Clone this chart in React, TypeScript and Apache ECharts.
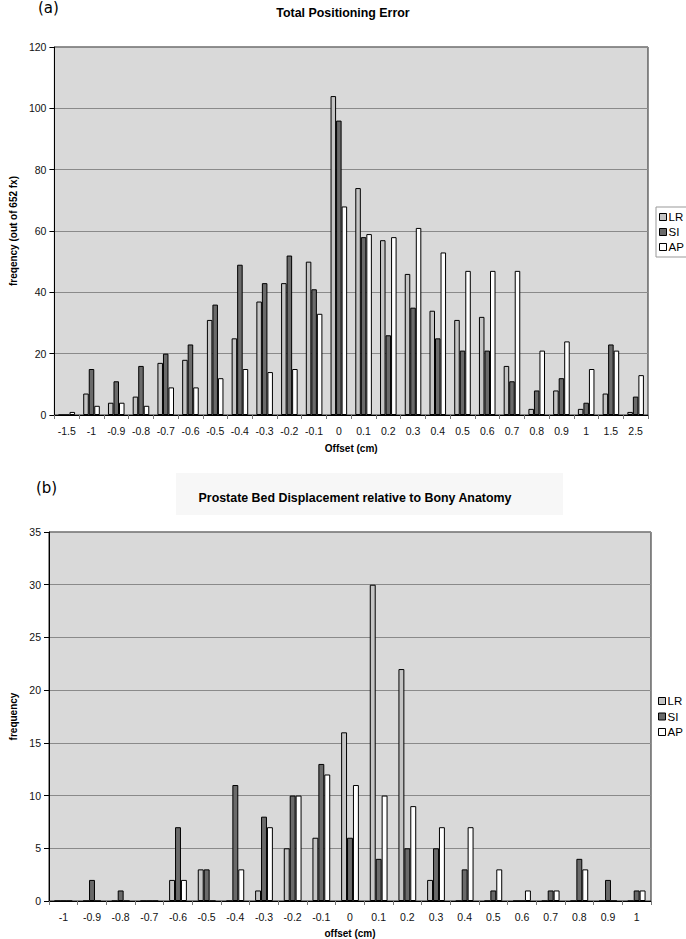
import React, { useEffect, useRef } from "react";
import * as echarts from "echarts";

const topCategories = ["-1.5", "-1", "-0.9", "-0.8", "-0.7", "-0.6", "-0.5", "-0.4", "-0.3", "-0.2", "-0.1", "0", "0.1", "0.2", "0.3", "0.4", "0.5", "0.6", "0.7", "0.8", "0.9", "1", "1.5", "2.5"];
const topLR = [0, 7, 4, 6, 17, 18, 31, 25, 37, 43, 50, 104, 74, 57, 46, 34, 31, 32, 16, 2, 8, 2, 7, 1];
const topSI = [0, 15, 11, 16, 20, 23, 36, 49, 43, 52, 41, 96, 58, 26, 35, 25, 21, 21, 11, 8, 12, 4, 23, 6];
const topAP = [1, 3, 4, 3, 9, 9, 12, 15, 14, 15, 33, 68, 59, 58, 61, 53, 47, 47, 47, 21, 24, 15, 21, 13];

const botCategories = ["-1", "-0.9", "-0.8", "-0.7", "-0.6", "-0.5", "-0.4", "-0.3", "-0.2", "-0.1", "0", "0.1", "0.2", "0.3", "0.4", "0.5", "0.6", "0.7", "0.8", "0.9", "1"];
const botLR = [0, 0, 0, 0, 2, 3, 0, 1, 5, 6, 16, 30, 22, 2, 0, 0, 0, 0, 0, 0, 0];
const botSI = [0, 2, 1, 0, 7, 3, 11, 8, 10, 13, 6, 4, 5, 5, 3, 1, 0, 1, 4, 2, 1];
const botAP = [0, 0, 0, 0, 2, 0, 3, 7, 10, 12, 11, 10, 9, 7, 7, 3, 1, 1, 3, 0, 1];

const seriesNames = ["LR", "SI", "AP"];
const seriesColors = ["#c4c4c4", "#6a6a6a", "#ffffff"];

const FONT = "Liberation Sans, Arial, sans-serif";

export default function App() {
  const ref = useRef<HTMLDivElement>(null);
  useEffect(() => {
    if (!ref.current) return;
    const chart = echarts.init(ref.current, undefined, { renderer: "svg" });

    const xAxisCommon = (gridIndex: number, data: string[], name: string, nameGap: number) => ({
      type: "category",
      gridIndex,
      data,
      name,
      nameLocation: "middle",
      nameGap,
      nameTextStyle: { fontFamily: FONT, fontSize: 10, fontWeight: "bold", color: "#000" },
      axisLine: { show: true, lineStyle: { color: "#000", width: 1 } },
      axisTick: { show: true, length: 4, lineStyle: { color: "#777" } },
      axisLabel: { fontFamily: FONT, fontSize: 10.5, color: "#111", margin: 10, interval: 0 },
      splitLine: { show: false },
    });
    const yAxisCommon = (gridIndex: number, max: number, interval: number, name: string, nameGap: number) => ({
      type: "value",
      gridIndex,
      min: 0,
      max,
      interval,
      name,
      nameLocation: "middle",
      nameGap,
      nameTextStyle: { fontFamily: FONT, fontSize: 10, fontWeight: "bold", color: "#000" },
      axisLine: { show: true, lineStyle: { color: "#000", width: 1 } },
      axisTick: { show: true, length: 5, lineStyle: { color: "#000" } },
      axisLabel: { fontFamily: FONT, fontSize: 10.5, color: "#111", margin: 8 },
      splitLine: { show: true, lineStyle: { color: "#8a8a8a", width: 1 } },
    });

    const mkSeries = (data: number[], i: number, axisIndex: number, gap: string) => ({
      type: "bar",
      name: seriesNames[i],
      xAxisIndex: axisIndex,
      yAxisIndex: axisIndex,
      data,
      barGap: "0%",
      barCategoryGap: gap,
      itemStyle: { color: seriesColors[i], borderColor: "#000", borderWidth: 1 },
    });

    const legendCommon = {
      orient: "vertical",
      icon: "rect",
      itemWidth: 7,
      itemHeight: 7,
      itemGap: 3,
      textStyle: { fontFamily: FONT, fontSize: 11.5, color: "#000", padding: [0, 0, 0, -3] },
      selectedMode: false,
      data: seriesNames.map((n) => ({ name: n, itemStyle: { borderColor: "#000", borderWidth: 1 } })),
    };

    chart.setOption({
      animation: false,
      backgroundColor: "#fff",
      graphic: [
        { type: "rect", shape: { x: 176, y: 473, width: 387, height: 42 }, style: { fill: "#f7f7f7" }, z: -10 },
        { type: "text", x: 38, y: 0, style: { text: "(a)", font: "15px DejaVu Sans", fill: "#000" } },
        { type: "text", x: 36, y: 480, style: { text: "(b)", font: "15px DejaVu Sans", fill: "#000" } },
      ],
      title: [
        { text: "Total Positioning Error", left: 338, top: 2, textAlign: "center", textStyle: { fontFamily: FONT, fontSize: 12.4, fontWeight: "bold", color: "#000" } },
        { text: "Prostate Bed Displacement relative to Bony Anatomy", left: 350, top: 487, textAlign: "center", textStyle: { fontFamily: FONT, fontSize: 12.4, fontWeight: "bold", color: "#000" } },
      ],
      legend: [
        { ...legendCommon, left: 656, top: 207, padding: [4, 12, 4, 3], borderColor: "#999", borderWidth: 1, backgroundColor: "#fff" },
        { ...legendCommon, left: 656, top: 693, padding: [2, 12, 2, 2], itemGap: 3.5 },
      ],
      grid: [
        { left: 40, top: 47, width: 608, height: 368, show: true, backgroundColor: "#d9d9d9", borderColor: "#222", borderWidth: 1 },
        { left: 36, top: 532, width: 615, height: 369, show: true, backgroundColor: "#d9d9d9", borderColor: "#222", borderWidth: 1 },
      ],
      xAxis: [
        xAxisCommon(0, topCategories, "Offset (cm)", 28),
        xAxisCommon(1, botCategories, "offset (cm)", 27),
      ],
      yAxis: [
        yAxisCommon(0, 120, 20, "freqency (out of 652 fx)", 35),
        yAxisCommon(1, 35, 5, "frequency", 31),
      ],
      series: [
        mkSeries(topLR, 0, 0, "33%"),
        mkSeries(topSI, 1, 0, "33%"),
        mkSeries(topAP, 2, 0, "33%"),
        mkSeries(botLR, 0, 1, "38%"),
        mkSeries(botSI, 1, 1, "38%"),
        mkSeries(botAP, 2, 1, "38%"),
      ],
    });
    return () => chart.dispose();
  }, []);
  return <div ref={ref} style={{ position: "fixed", left: 0, top: 0, width: 686, height: 939 }} />;
}
